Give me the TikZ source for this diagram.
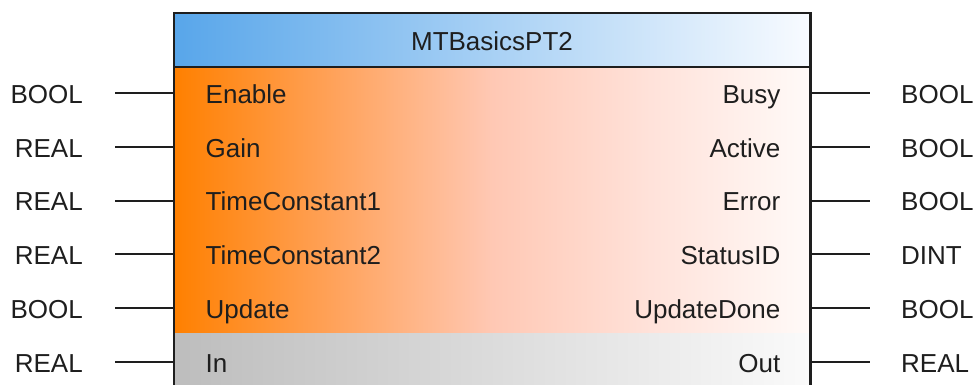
\documentclass[tikz,border=0pt]{standalone}
\usepackage{fontspec}
\setmainfont{Liberation Sans}
\definecolor{hdrL}{HTML}{58A6EA}
\definecolor{hdrM}{HTML}{B6D5F5}
\definecolor{hdrR}{HTML}{F8FBFF}
\definecolor{orA}{HTML}{FF8000}
\definecolor{orB}{HTML}{FFA25A}
\definecolor{orC}{HTML}{FFC8B4}
\definecolor{orD}{HTML}{FFE2DA}
\definecolor{orE}{HTML}{FFFAF8}
\definecolor{grL}{HTML}{BDBDBD}
\definecolor{grR}{HTML}{FAFAFA}
\definecolor{ink}{HTML}{1E1E1E}
\pgfdeclarehorizontalshading{orshade}{100bp}{color(0bp)=(orA); color(25bp)=(orA); color(37.5bp)=(orB); color(50bp)=(orC); color(62.5bp)=(orD); color(75bp)=(orE); color(100bp)=(orE)}
\tikzset{
  lbl/.style={inner sep=0pt, text=ink, font=\fontsize{26}{31}\selectfont},
  pinline/.style={draw=ink, line width=2pt},
  border/.style={draw=ink, line width=2.6pt},
  part/.style={draw=none, inner sep=0pt, minimum width=636pt}
}
\begin{document}
\begin{tikzpicture}[x=1pt,y=-1pt]
\useasboundingbox (0,0) rectangle (979,385);
\clip (0,0) rectangle (979,385);
% box parts
\node[part, minimum height=53.4pt, left color=hdrL, middle color=hdrM, right color=hdrR] (hdr) at (492,40) {};
\node[part, minimum height=266.6pt, shading=orshade] (body) at (492,200) {};
\node[part, minimum height=62pt, left color=grL, right color=grR] (gray) at (492,364.3) {};
% borders
\draw[border] (gray.south west) -- (hdr.north west) -- (hdr.north east) -- (gray.south east);
\draw[border] (hdr.south west) -- (hdr.south east);
% title
\node[lbl, anchor=base] (title) at (492,50.7) {MTBasicsPT2};
% inputs
\foreach \i/\name/\typ in {0/Enable/BOOL,1/Gain/REAL,2/TimeConstant1/REAL,3/TimeConstant2/REAL,4/Update/BOOL,5/In/REAL}{
  \coordinate (pl\i) at (115,93.3+53.7*\i);
  \coordinate (el\i) at (174,93.3+53.7*\i);
  \draw[pinline] (pl\i) -- (el\i);
  \node[lbl, anchor=base west] (in\i) at (205.5,103.5+53.7*\i) {\name};
  \node[lbl, anchor=base east] (tin\i) at (83,103.5+53.7*\i) {\typ};
}
% outputs
\foreach \i/\name/\typ in {0/Busy/BOOL,1/Active/BOOL,2/Error/BOOL,3/StatusID/DINT,4/UpdateDone/BOOL,5/Out/REAL}{
  \coordinate (er\i) at (810,93.3+53.7*\i);
  \coordinate (pr\i) at (870,93.3+53.7*\i);
  \draw[pinline] (er\i) -- (pr\i);
  \node[lbl, anchor=base east] (out\i) at (780.5,103.5+53.7*\i) {\name};
  \node[lbl, anchor=base west] (tout\i) at (901,103.5+53.7*\i) {\typ};
}
\end{tikzpicture}
\end{document}
